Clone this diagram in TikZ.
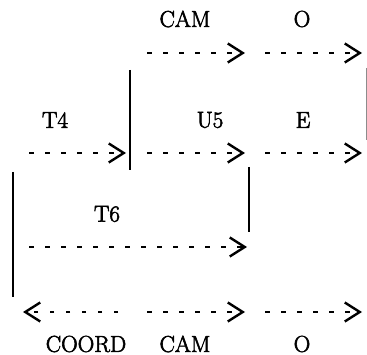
\documentclass[tikz,border=0pt]{standalone}
\usepackage{fontspec}
\newfontfamily\lblfont{Latin Modern Roman}[FakeBold=2.6]
\usetikzlibrary{arrows.meta}
\tikzset{
  lbl/.style={inner sep=0pt, anchor=center, font=\lblfont\fontsize{23}{27}\selectfont},
  flow/.style={line width=2.5pt, dash pattern=on 4.5pt off 11.5pt, dash phase=0pt,
    -{Straight Barb[length=15pt,width=19pt,line width=2.4pt]}},
  wall/.style={line width=1.8pt},
  faint/.style={line width=0.8pt, black!45}
}
\begin{document}
\begin{tikzpicture}[x=1pt,y=-1pt]
\useasboundingbox (0,0) rectangle (367,355);

% labels
\node[lbl] (camtop)  at (185,19)  {CAM};
\node[lbl] (otop)    at (302,19)  {O};
\node[lbl] (t4)      at (55,120)  {T4};
\node[lbl] (u5)      at (210,120) {U5};
\node[lbl] (e)       at (303,120) {E};
\node[lbl] (t6)      at (107,214) {T6};
\node[lbl] (coord)   at (86,344)  {COORD};
\node[lbl] (cambot)  at (185,344) {CAM};
\node[lbl] (obot)    at (302,344) {O};

% arrow end points
\coordinate (a1s) at (147,53);  \coordinate (a1e) at (245,53);
\coordinate (a2s) at (265,53);  \coordinate (a2e) at (362,53);
\coordinate (b1s) at (29,153);  \coordinate (b1e) at (126,153);
\coordinate (b2s) at (147,153); \coordinate (b2e) at (245,153);
\coordinate (b3s) at (265,153); \coordinate (b3e) at (362,153);
\coordinate (c1s) at (29,247);  \coordinate (c1e) at (247,247);
\coordinate (d1s) at (118,312); \coordinate (d1e) at (23,312);
\coordinate (d2s) at (147,312); \coordinate (d2e) at (245,312);
\coordinate (d3s) at (265,312); \coordinate (d3e) at (362,312);

% wall end points
\coordinate (w1t) at (130,70);  \coordinate (w1b) at (130,170);
\coordinate (w2t) at (13,172);  \coordinate (w2b) at (13,297);
\coordinate (w3t) at (249,167); \coordinate (w3b) at (249,232);
\coordinate (w4t) at (366,68);  \coordinate (w4b) at (366,140);

% dashed arrows
\draw[flow] (a1s) -- (a1e);
\draw[flow] (a2s) -- (a2e);
\draw[flow] (b1s) -- (b1e);
\draw[flow] (b2s) -- (b2e);
\draw[flow] (b3s) -- (b3e);
\draw[flow] (c1s) -- (c1e);
\draw[flow] (d1s) -- (d1e);
\draw[flow] (d2s) -- (d2e);
\draw[flow] (d3s) -- (d3e);

% vertical walls
\draw[wall] (w1t) -- (w1b);
\draw[wall] (w2t) -- (w2b);
\draw[wall] (w3t) -- (w3b);
\draw[faint] (w4t) -- (w4b);
\end{tikzpicture}
\end{document}
